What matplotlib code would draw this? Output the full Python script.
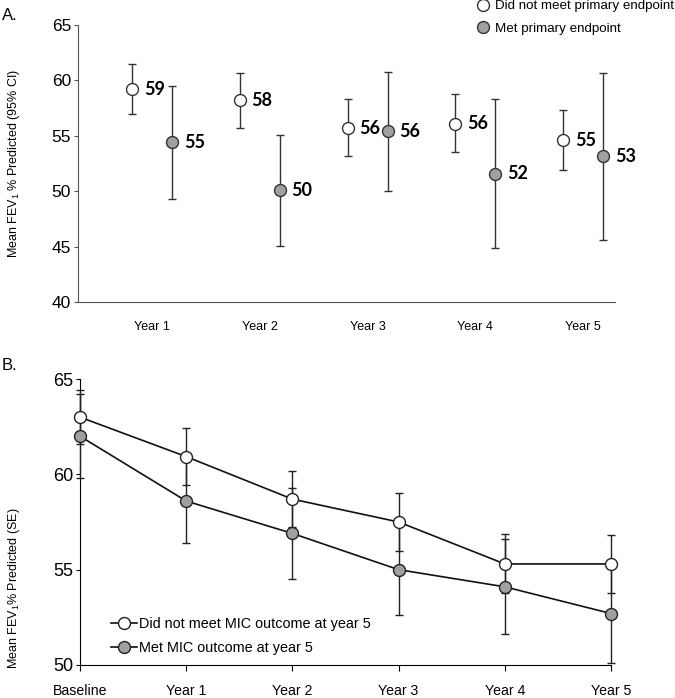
import numpy as np
from matplotlib import pyplot as plt
from matplotlib.lines import Line2D

plt.rcParams['font.family'] = ['Liberation Sans', 'DejaVu Sans']
plt.rcParams['mathtext.fontset'] = 'custom'
plt.rcParams['mathtext.rm'] = 'Liberation Sans'
plt.rcParams['mathtext.it'] = 'Liberation Sans'

# Panel A: mean FEV1 with 95% CI
years_a = ['Year 1', 'Year 2', 'Year 3', 'Year 4', 'Year 5']
notmet_mean = [59.2, 58.2, 55.7, 56.1, 54.6]
notmet_lo = [57.0, 55.7, 53.2, 53.5, 51.9]
notmet_hi = [61.45, 60.7, 58.3, 58.75, 57.3]
met_mean = [54.4, 50.1, 55.4, 51.6, 53.15]
met_lo = [49.3, 45.1, 50.0, 44.9, 45.6]
met_hi = [59.5, 55.1, 60.8, 58.3, 60.7]
notmet_lbl = ['59', '58', '56', '56', '55']
met_lbl = ['55', '50', '56', '52', '53']

# Panel B: mean FEV1 with SE
years_b = ['Baseline', 'Year 1', 'Year 2', 'Year 3', 'Year 4', 'Year 5']
mic_notmet = [63.0, 60.93, 58.7, 57.5, 55.3, 55.3]
mic_notmet_se = [1.4, 1.5, 1.45, 1.5, 1.55, 1.5]
mic_met = [62.0, 58.6, 56.9, 55.0, 54.1, 52.7]
mic_met_se = [2.2, 2.2, 2.4, 2.4, 2.5, 2.6]

grey = '#a0a0a0'
edge = '#333333'

fig = plt.figure(figsize=(6.75, 6.98), dpi=100)

# ---------- A ----------
ax1 = fig.add_axes([0.1156, 0.5673, 0.7956, 0.3968])
xa = np.arange(1, len(years_a) + 1)
off = 20 / 107.75
m1 = np.array(notmet_mean)
m2 = np.array(met_mean)
ax1.errorbar(xa - off, m1, yerr=[m1 - np.array(notmet_lo), np.array(notmet_hi) - m1],
             fmt='o', color=edge, mfc='white', mec=edge, ms=8.6, mew=1.0,
             ecolor=edge, elinewidth=1.0, capsize=2.6, capthick=1.0)
ax1.errorbar(xa + off, m2, yerr=[m2 - np.array(met_lo), np.array(met_hi) - m2],
             fmt='o', color=edge, mfc=grey, mec=edge, ms=8.6, mew=1.0,
             ecolor=edge, elinewidth=1.0, capsize=2.6, capthick=1.0)
for i in range(len(xa)):
    ax1.annotate(notmet_lbl[i], (xa[i] - off, m1[i]), xytext=(8.5, 0), textcoords='offset points',
                 va='center', ha='left', fontsize=13, fontweight='bold', family='Lato')
    ax1.annotate(met_lbl[i], (xa[i] + off, m2[i]), xytext=(8.5, 0), textcoords='offset points',
                 va='center', ha='left', fontsize=13, fontweight='bold', family='Lato')
ax1.set_xlim(0.315, 5.296)
ax1.set_ylim(40, 65)
ax1.set_yticks([40, 45, 50, 55, 60, 65])
ax1.set_xticks(xa)
ax1.set_xticklabels(years_a, fontsize=9)
ax1.tick_params(axis='x', length=0, pad=14)
ax1.tick_params(axis='y', labelsize=12.5, length=3, color='#555555', pad=2)
for s in ['top', 'right']:
    ax1.spines[s].set_visible(False)
for s in ['left', 'bottom']:
    ax1.spines[s].set_color('#555555')
ax1.set_ylabel(r'Mean FEV$_1$ % Predicted (95% CI)', fontsize=9)
ax1.yaxis.set_label_coords(-0.104, 0.5)
h1 = [Line2D([], [], ls='none', marker='o', mfc='white', mec=edge, ms=8.6, mew=1.0),
      Line2D([], [], ls='none', marker='o', mfc=grey, mec=edge, ms=8.6, mew=1.0)]
ax1.legend(h1, ['Did not meet primary endpoint', 'Met primary endpoint'],
           loc='upper left', bbox_to_anchor=(476 / 675, 1.0), bbox_transform=fig.transFigure,
           frameon=False, fontsize=9.6, handlelength=1.0, handletextpad=0.45,
           borderpad=0, borderaxespad=0, labelspacing=0.75)
fig.text(0.003, 0.978, 'A.', fontsize=12, va='center')

# ---------- B ----------
ax2 = fig.add_axes([0.1185, 0.0473, 0.7867, 0.4097])
xb = np.arange(len(years_b))
ax2.errorbar(xb, mic_notmet, yerr=mic_notmet_se, fmt='-o', color='#111111', lw=1.2,
             mfc='white', mec='#222222', ms=8.6, mew=1.0, ecolor='#222222',
             elinewidth=1.0, capsize=2.6, capthick=1.0, clip_on=False, zorder=3)
ax2.errorbar(xb, mic_met, yerr=mic_met_se, fmt='-o', color='#111111', lw=1.2,
             mfc=grey, mec='#222222', ms=8.6, mew=1.0, ecolor='#222222',
             elinewidth=1.0, capsize=2.6, capthick=1.0, clip_on=False, zorder=3)
ax2.set_xlim(0, 5)
ax2.set_ylim(50, 65)
ax2.set_yticks([50, 55, 60, 65])
ax2.set_xticks(xb)
ax2.set_xticklabels(years_b, fontsize=10.2)
ax2.tick_params(axis='x', length=4, pad=10)
ax2.tick_params(axis='y', labelsize=13, length=3, pad=2)
for s in ['top', 'right']:
    ax2.spines[s].set_visible(False)
ax2.set_ylabel(r'Mean FEV$_1$% Predicted (SE)', fontsize=9)
ax2.yaxis.set_label_coords(-0.109, 0.27)
h2 = [Line2D([], [], color='#111111', lw=1.2, marker='o', mfc='white', mec='#222222', ms=8.6, mew=1.0),
      Line2D([], [], color='#111111', lw=1.2, marker='o', mfc=grey, mec='#222222', ms=8.6, mew=1.0)]
ax2.legend(h2, ['Did not meet MIC outcome at year 5', 'Met MIC outcome at year 5'],
           loc='lower left', bbox_to_anchor=(0.045, 0.01), frameon=False, fontsize=10.4,
           handlelength=1.8, handletextpad=0.1, borderpad=0, labelspacing=0.7)
fig.text(0.003, 0.477, 'B.', fontsize=12, va='center')

plt.savefig('out.png', dpi=100)
